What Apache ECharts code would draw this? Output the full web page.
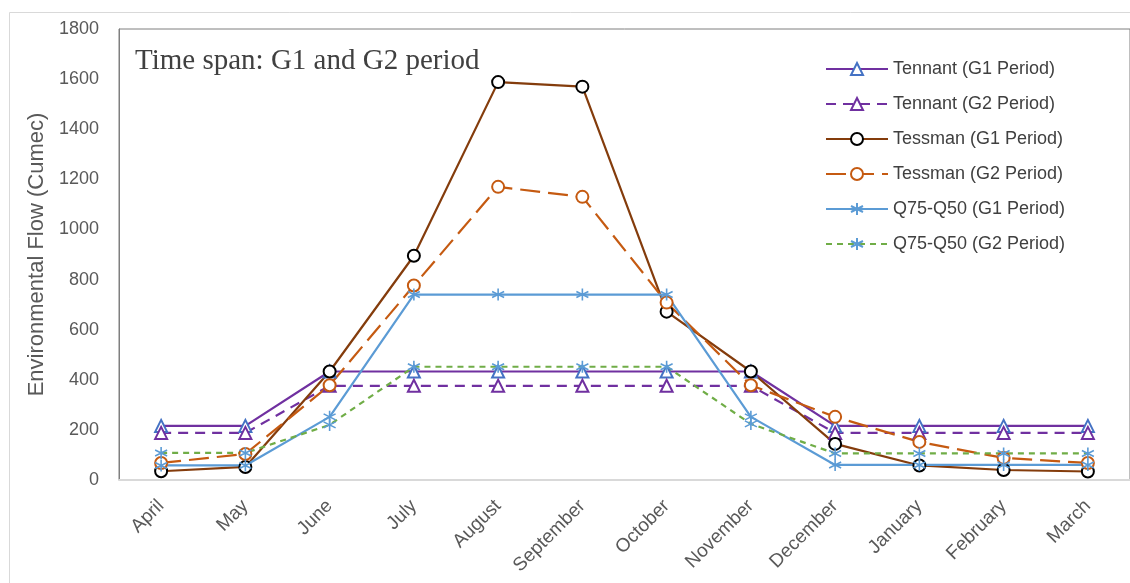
<!DOCTYPE html>
<html>
<head>
<meta charset="utf-8">
<script src="https://cdn.jsdelivr.net/npm/echarts@6/dist/echarts.min.js"></script>
<style>
html,body{margin:0;padding:0;background:#fff;}
#chart{width:1130px;height:583px;}
</style>
</head>
<body>
<div id="chart"></div>
<script>
const categories = ['April','May','June','July','August','September','October','November','December','January','February','March'];
const tennantG1 = [216,216,433,433,433,433,433,433,216,216,216,216];
const tennantG2 = [188,188,376,376,376,376,376,376,188,188,188,188];
const tessmanG1 = [35,52,433,895,1588,1570,672,433,144,58,40,34];
const tessmanG2 = [68,104,378,776,1170,1130,708,378,252,152,88,68];
const q7550G1 = [58,58,252,740,740,740,740,252,60,60,60,60];
const q7550G2 = [108,108,220,452,452,452,452,224,106,106,106,106];
const seriesNames = ['Tennant (G1 Period)','Tennant (G2 Period)','Tessman (G1 Period)','Tessman (G2 Period)','Q75-Q50 (G1 Period)','Q75-Q50 (G2 Period)'];
const yTicks = {min:0, max:1800, interval:200};

const star = 'path://M5 0 L5 10 M0.7 2.5 L9.3 7.5 M0.7 7.5 L9.3 2.5';
const FONT = 'Liberation Sans';

function mk(name, data, lineColor, dash, symbol, markColor, size){
  const s = {
    name, type:'line', data,
    symbol, symbolSize:size,
    lineStyle:{color:lineColor, width:2.2, type:dash},
    itemStyle:{color:markColor},
    z: 2
  };
  if (symbol === star){
    s.itemStyle = {color:'none', borderColor:markColor, borderWidth:1.6};
  }
  return s;
}

const chart = echarts.init(document.getElementById('chart'));
chart.setOption({
  animation:false,
  backgroundColor:'#fff',
  graphic:[
    {type:'rect', shape:{x:9.5,y:12.5,width:1200,height:700}, style:{fill:'none',stroke:'#d9d9d9',lineWidth:1}, z:-1},
    {type:'text', left:135, top:47, style:{text:'Time span: G1 and G2 period', font:'29px "Liberation Serif"', fill:'#404040'}}
  ],
  grid:{left:119, top:29, right:-2, bottom:103, show:true, borderColor:'#7f7f7f', borderWidth:1},
  legend:{
    orient:'vertical', left:820, top:55,
    itemWidth:62, itemHeight:15, itemGap:17,
    textStyle:{fontFamily:FONT, fontSize:18, color:'#404040'},
    data:seriesNames
  },
  xAxis:{
    type:'category', data:categories, boundaryGap:true,
    axisLine:{show:true, lineStyle:{color:'#d9d9d9', width:2}},
    axisTick:{show:false},
    axisLabel:{rotate:45, fontFamily:FONT, fontSize:19, color:'#595959', margin:23, interval:0},
    splitLine:{show:false}
  },
  yAxis:{
    type:'value', min:yTicks.min, max:yTicks.max, interval:yTicks.interval,
    name:'Environmental Flow (Cumec)', nameLocation:'middle', nameGap:66,
    nameTextStyle:{fontFamily:FONT, fontSize:22, color:'#595959'},
    axisLine:{show:true, lineStyle:{color:'#7f7f7f', width:1}},
    axisTick:{show:false},
    axisLabel:{fontFamily:FONT, fontSize:18, color:'#595959', margin:20, formatter:(v)=>String(v)},
    splitLine:{show:false}
  },
  series:[
    mk(seriesNames[0], tennantG1, '#7030A0', 'solid', 'emptyTriangle', '#4472C4', 12),
    mk(seriesNames[1], tennantG2, '#7030A0', [10,7], 'emptyTriangle', '#7030A0', 12),
    mk(seriesNames[2], tessmanG1, '#843C0C', 'solid', 'emptyCircle', '#000000', 12),
    mk(seriesNames[3], tessmanG2, '#C55A11', [20,8], 'emptyCircle', '#C55A11', 12),
    mk(seriesNames[4], q7550G1, '#5B9BD5', 'solid', star, '#5B9BD5', 12),
    mk(seriesNames[5], q7550G2, '#70AD47', [6,5], star, '#5B9BD5', 12)
  ]
});
</script>
</body>
</html>
